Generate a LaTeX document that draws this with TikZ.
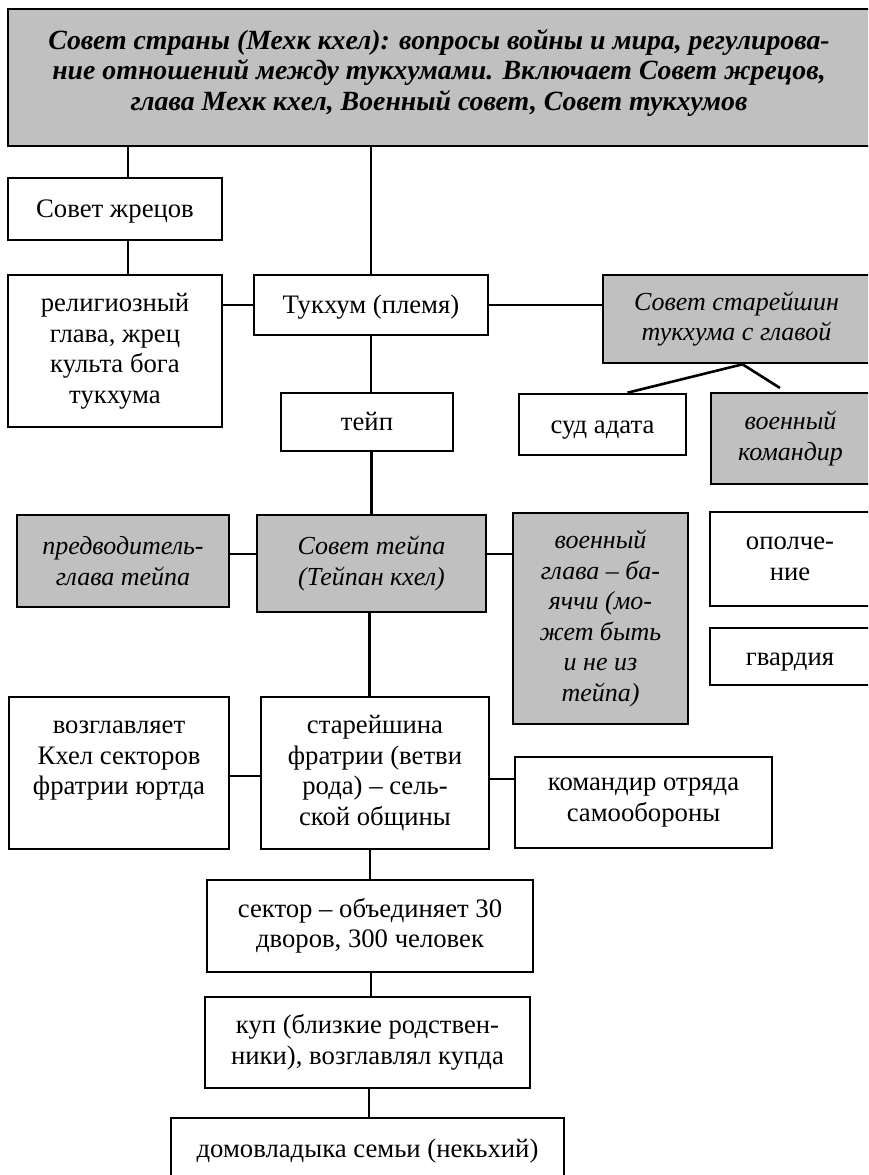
\documentclass[tikz,border=0pt]{standalone}
\usepackage{fontspec}
\setmainfont{Liberation Serif}
\usetikzlibrary{calc}
\definecolor{boxgray}{RGB}{192,192,192}
\begin{document}
\begin{tikzpicture}[x=1pt,y=-1pt,
  box/.style={draw=black, line width=2.6pt, fill=white, align=center, inner sep=0pt,
    font=\fontsize{26.7}{30.5}\selectfont},
  gbox/.style={box, fill=boxgray, font=\fontsize{26}{30.5}\selectfont\itshape},
  one/.style={text height=18pt, text depth=1pt},
  conn/.style={line width=2.6pt}]
\useasboundingbox (0,0) rectangle (868,1175);
\clip (0,0) rectangle (868,1175);

\node[gbox, minimum width=862pt, minimum height=137pt] (top) at (439,77.5) {};
\node[align=center, inner sep=0pt, font=\fontsize{27.8}{30.5}\selectfont\bfseries\itshape] (toptxt) at (439,72.5)
  {Совет страны (Мехк кхел): вопросы войны и мира, регулирова-\\ние отношений между тукхумами. Включает Совет жрецов,\\глава Мехк кхел, Военный совет, Совет тукхумов};
\node[box, one, minimum width=214pt, minimum height=62pt] (sj) at (115,209) {Совет жрецов};
\node[box, minimum width=214pt, minimum height=152pt] (rel) at (115,351) {религиозный\\глава, жрец\\культа бога\\тукхума};
\node[box, one, minimum width=234pt, minimum height=60pt] (tk) at (371,305) {Тукхум (племя)};
\node[gbox, minimum width=267pt, minimum height=88pt] (sst) at (736.5,319) {Совет старейшин\\тукхума с главой};
\node[box, one, minimum width=172pt, minimum height=58pt] (teip) at (367,422) {тейп};
\node[box, one, minimum width=167pt, minimum height=61pt] (sud) at (602.5,424.5) {суд адата};
\node[gbox, minimum width=159pt, minimum height=91pt] (vk) at (790.5,438.5) {военный\\командир};
\node[gbox, minimum width=212pt, minimum height=92pt] (pred) at (123,561) {предводитель-\\глава тейпа};
\node[gbox, minimum width=229pt, minimum height=97pt] (st) at (371.5,563.5) {Совет тейпа\\(Тейпан кхел)};
\node[gbox, minimum width=175pt, minimum height=211pt] (vg) at (600.5,618.5) {военный\\глава – ба-\\яччи (мо-\\жет быть\\и не из\\тейпа)};
\node[box, minimum width=160pt, minimum height=94pt] (opl) at (790,559) {ополче-\\ние};
\node[box, one, minimum width=160pt, minimum height=57pt] (gv) at (790,656.5) {гвардия};
\node[box, minimum width=220pt, minimum height=152pt] (voz) at (119,773) {возглавляет\\Кхел секторов\\фратрии юртда\\\mbox{}};
\node[box, minimum width=228pt, minimum height=152pt] (star) at (375,773) {старейшина\\фратрии (ветви\\рода) – сель-\\ской общины};
\node[box, minimum width=257pt, minimum height=91pt] (kom) at (643.5,802.5) {командир отряда\\самообороны};
\node[box, minimum width=326pt, minimum height=92pt] (sec) at (370,926) {сектор – объединяет 30\\дворов, 300 человек};
\node[box, minimum width=325pt, minimum height=91pt] (kup) at (367.5,1042.5) {куп (близкие родствен-\\ники), возглавлял купда};
\node[box, one, minimum width=393pt, minimum height=62pt] (dom) at (367.5,1149) {домовладыка семьи (некьхий)};

\coordinate (vkend) at (780,388);

\draw[conn] ([xshift=13pt]sj.north) -- ([xshift=13pt]sj.north |- top.south);
\draw[conn] ([xshift=13pt]sj.south) -- ([xshift=13pt]sj.south |- rel.north);
\draw[conn] (tk.north) -- (tk.north |- top.south);
\draw[conn] (tk.west) -- (tk.west -| rel.east);
\draw[conn] (tk.east) -- (tk.east -| sst.west);
\draw[conn] (tk.south) -- (tk.south |- teip.north);
\draw[conn] ([xshift=6pt]sst.south) -- ([xshift=25pt]sud.north);
\draw[conn] ([xshift=6pt]sst.south) -- (vkend);
\draw[conn] (st.north) -- (st.north |- teip.south);
\draw[conn] ([yshift=9.5pt]st.west) -- ([yshift=9.5pt]st.west -| pred.east);
\draw[conn] ([yshift=9.5pt]st.east) -- ([yshift=9.5pt]st.east -| vg.west);
\draw[conn] ([xshift=-2pt]st.south) -- ([xshift=-2pt]st.south |- star.north);
\draw[conn] ([yshift=-3pt]star.west) -- ([yshift=-3pt]star.west -| voz.east);
\draw[conn] ([yshift=-6pt]star.east) -- ([yshift=-6pt]star.east -| kom.west);
\draw[conn] (sec.north) -- (sec.north |- star.south);
\draw[conn] ([xshift=1pt]sec.south) -- ([xshift=1pt]sec.south |- kup.north);
\draw[conn] ([xshift=1.5pt]kup.south) -- ([xshift=1.5pt]kup.south |- dom.north);
\end{tikzpicture}
\end{document}
